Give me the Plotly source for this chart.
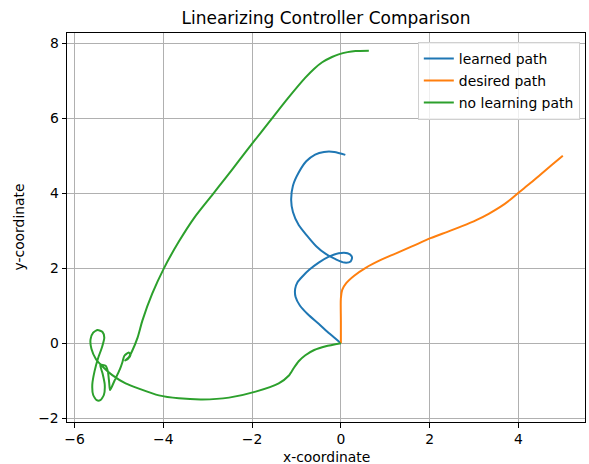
import plotly.graph_objects as go

learned_x = [0, -0.25, -0.5, -0.75, -0.92, -1.02, -1.03, -0.98, -0.85, -0.70, -0.50, -0.27, -0.05, 0.15, 0.25, 0.22, 0.08,
             -0.12, -0.34, -0.55, -0.75, -0.95, -1.08, -1.12, -1.08, -0.95, -0.78, -0.58, -0.38, -0.15, 0.10]
learned_y = [0, 0.25, 0.52, 0.78, 1.0, 1.23, 1.45, 1.62, 1.80, 1.97, 2.15, 2.31, 2.40, 2.40, 2.30, 2.18, 2.15,
             2.24, 2.38, 2.58, 2.85, 3.15, 3.50, 3.82, 4.20, 4.55, 4.85, 5.03, 5.10, 5.10, 5.02]

desired_x = [0, 0, 0, 0.03, 0.12, 0.30, 0.56, 0.90, 1.23, 1.60, 2.02, 2.40, 2.73, 3.05, 3.33, 3.60, 3.80, 4.00,
             4.25, 4.50, 4.75, 5.00]
desired_y = [0, 0.6, 1.2, 1.42, 1.60, 1.80, 2.01, 2.22, 2.39, 2.58, 2.80, 2.97, 3.12, 3.28, 3.45, 3.64, 3.81, 4.01,
             4.25, 4.50, 4.75, 5.00]

nolearn_x = [0, -0.34, -0.60, -0.80, -0.95, -1.06, -1.17, -1.40, -1.92, -2.52, -3.12, -3.65, -4.10, -4.55, -4.85,
             -5.15, -5.37, -5.52, -5.62, -5.64, -5.58, -5.48, -5.37, -5.33, -5.38, -5.47, -5.55, -5.60, -5.58,
             -5.50, -5.42, -5.34, -5.32, -5.37, -5.42, -5.30, -5.25, -5.22, -5.20, -5.10, -4.98, -4.92, -4.88,
             -4.78, -4.74, -4.80, -4.86, -4.78, -4.70, -4.58, -4.47, -4.25, -3.99, -3.65, -3.30, -2.90, -2.60,
             -2.30, -2.00, -1.60, -1.20, -0.80, -0.60, -0.42, -0.20, -0.05, 0.15, 0.33, 0.63]
nolearn_y = [0, -0.08, -0.18, -0.32, -0.48, -0.66, -0.86, -1.07, -1.29, -1.45, -1.50, -1.47, -1.39, -1.21, -1.07,
             -0.85, -0.62, -0.42, -0.15, 0.10, 0.28, 0.35, 0.30, 0.15, -0.10, -0.40, -0.75, -1.10, -1.38,
             -1.52, -1.52, -1.38, -1.10, -0.80, -0.58, -0.60, -0.75, -1.05, -1.25, -1.00, -0.70, -0.50, -0.34,
             -0.25, -0.32, -0.42, -0.46, -0.38, -0.20, 0.15, 0.61, 1.32, 1.99, 2.71, 3.35, 3.95, 4.40,
             4.86, 5.32, 5.92, 6.52, 7.08, 7.32, 7.49, 7.63, 7.70, 7.76, 7.79, 7.80]

FONT = "DejaVu Sans"
FS = 13.9

fig = go.Figure()
fig.add_trace(go.Scatter(x=learned_x, y=learned_y, mode="lines", name="learned path", legendgroup="a",
                         line=dict(color="#1f77b4", width=2, shape="spline", smoothing=0.8)))
fig.add_trace(go.Scatter(x=desired_x, y=desired_y, mode="lines", name="desired path", legendgroup="b",
                         line=dict(color="#ff7f0e", width=2, shape="spline", smoothing=0.8)))
fig.add_trace(go.Scatter(x=nolearn_x, y=nolearn_y, mode="lines", name="no learning path", legendgroup="c",
                         line=dict(color="#2ca02c", width=2, shape="spline", smoothing=0.6)))

axis_common = dict(showline=True, mirror=True, linecolor="black", linewidth=1, ticks="outside", ticklen=4.5,
                   tickcolor="black", showgrid=True, gridcolor="#b0b0b0", gridwidth=0.8, zeroline=False,
                   tickfont=dict(family=FONT, size=FS, color="black"), dtick=2, tick0=0, automargin=False)

fig.update_layout(
    width=589, height=464,
    margin=dict(l=67, r=4, t=33, b=42),
    plot_bgcolor="white", paper_bgcolor="white",
    font=dict(family=FONT, size=FS, color="black"),
    title=dict(text="Linearizing Controller Comparison", x=0.5, xref="paper", y=1 - 18 / 464, yref="container",
               yanchor="middle", xanchor="center", font=dict(family=FONT, size=17, color="black")),
    xaxis=dict(range=[-6.17, 5.5], **axis_common),
    yaxis=dict(range=[-2.1, 8.27], **axis_common),
    legend=dict(x=0.99, y=0.977, xanchor="right", yanchor="top", bgcolor="rgba(255,255,255,0.8)",
                bordercolor="#d0d0d0", borderwidth=1, traceorder="grouped", tracegroupgap=1,
                font=dict(family=FONT, size=FS, color="black")),
    showlegend=True,
    annotations=[
        dict(text="x-coordinate", xref="paper", yref="paper", x=0.5, y=0, xanchor="center", yanchor="middle",
             yshift=-35, showarrow=False, font=dict(family=FONT, size=FS, color="black")),
        dict(text="y-coordinate", xref="paper", yref="paper", x=0, y=0.5, xanchor="center", yanchor="middle",
             xshift=-49, textangle=-90, showarrow=False, font=dict(family=FONT, size=FS, color="black")),
    ],
)

fig.write_html("out.html", config={"displayModeBar": False})

# remove the default page margin so the figure sits at the window's top-left corner
with open("out.html", "r", encoding="utf-8") as f:
    html = f.read()
html = html.replace("<head>", "<head><style>html,body{margin:0;padding:0;overflow:hidden;}</style>", 1)
with open("out.html", "w", encoding="utf-8") as f:
    f.write(html)
